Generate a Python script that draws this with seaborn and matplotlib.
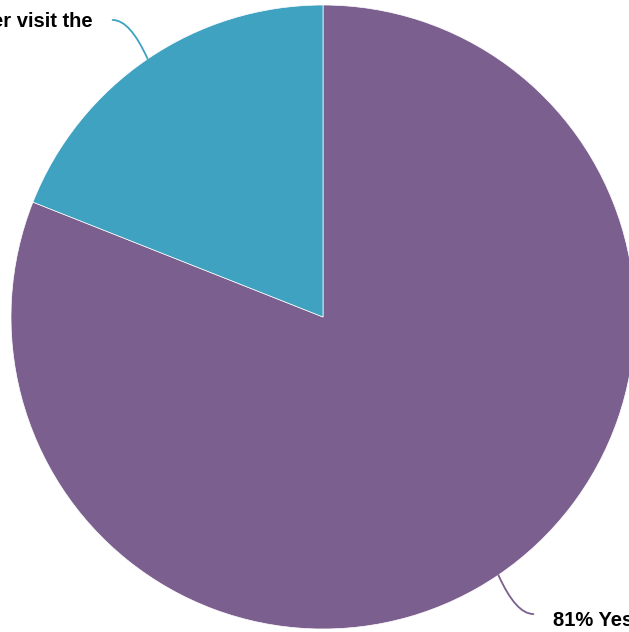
import numpy as np
import matplotlib
matplotlib.use("Agg")
import matplotlib.pyplot as plt
import seaborn as sns

sns.set_theme(style="white")
plt.rcParams['font.family'] = ['Liberation Sans', 'DejaVu Sans']

labels = ["81% Yes", "19% No, I never visit the"]
shares = [81, 19]
colors = ["#7B5F8E", "#3FA2C1"]

fig = plt.figure(figsize=(6.29, 6.32), dpi=100)
ax = fig.add_axes([0, 0, 1, 1])

cx, cy, r = 323, 315, 312
wedges, _ = ax.pie(shares, colors=colors, startangle=90, counterclock=False,
                   center=(cx, cy), radius=r, frame=True,
                   wedgeprops=dict(edgecolor="white", linewidth=0.5))
ax.set_xlim(0, 629)
ax.set_ylim(0, 632)
ax.set_aspect("equal")
ax.axis("off")

# connectors + labels, placed at the middle of each wedge
text_dy = [-6, -2]
for w, lab, col, dy in zip(wedges, labels, colors, text_dy):
    mid_deg = (w.theta1 + w.theta2) / 2
    mid = np.deg2rad(mid_deg)
    ex, ey = cx + r * np.cos(mid), cy + r * np.sin(mid)
    sx = np.sign(np.cos(mid))
    sy = np.sign(np.sin(mid))
    tx, ty = ex + 35 * sx, ey + 39 * sy
    ax.annotate("", xy=(ex, ey), xytext=(tx, ty),
                arrowprops=dict(arrowstyle="-", color=col, lw=1.3,
                                shrinkA=0, shrinkB=0,
                                connectionstyle=f"angle3,angleA=0,angleB={mid_deg + 10 * sx * sy:.1f}"))
    ha = "left" if sx > 0 else "right"
    ax.text(tx + 20 * sx, ty + dy, lab, ha=ha, va="center",
            fontsize=14.5, fontweight="bold", color="black")

fig.savefig("out.png", dpi=100)
